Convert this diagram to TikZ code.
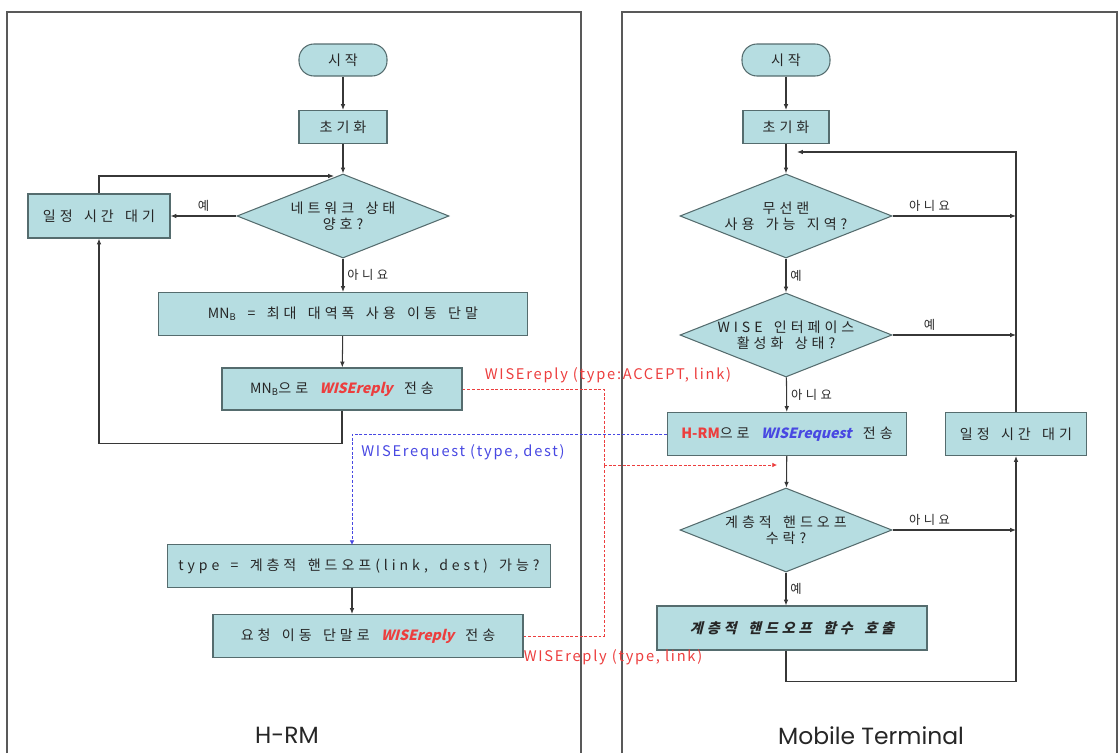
\documentclass[tikz,border=0pt]{standalone}
\usepackage{fontspec}
\setmainfont{Noto Sans CJK KR}[LetterSpace=28,WordSpace=1.6]
\newfontfamily\krslant{Noto Sans CJK KR}[LetterSpace=28,WordSpace=1.6,FakeSlant=0.25]
\newfontfamily\wisefont{Noto Sans CJK KR}[FakeSlant=0.25]
\newfontfamily\plainfont{Noto Sans CJK KR}
\newfontfamily\msgfont{Noto Sans CJK KR}[LetterSpace=12]
\newfontfamily\titlefont{Poppins}
\usetikzlibrary{shapes.geometric,arrows.meta}
\definecolor{boxfill}{RGB}{182,221,225}
\definecolor{boxline}{RGB}{85,108,110}
\definecolor{flowline}{RGB}{55,55,55}
\definecolor{replyred}{RGB}{236,62,62}
\definecolor{reqblue}{RGB}{72,72,226}
\newcommand{\wreply}{{\wisefont\bfseries\color{replyred}WISEreply}}
\newcommand{\wrequest}{{\wisefont\bfseries\color{reqblue}WISErequest}}
\newcommand{\mnb}{{\plainfont MN\textsubscript{B}}}

\begin{document}
\begin{tikzpicture}[x=0.03cm,y=-0.03cm,
  every node/.style={font=\fontsize{12}{14}\selectfont,text=black!85},
  proc/.style n args={2}{rectangle,draw=boxline,fill=boxfill,line width=0.9pt,minimum width=#1*0.03cm,minimum height=#2*0.03cm,inner sep=0pt},
  term/.style={rectangle,rounded corners=0.45cm,draw=boxline,fill=boxfill,line width=0.9pt,minimum width=88*0.03cm,minimum height=32*0.03cm,inner sep=0pt},
  cond/.style={diamond,aspect=2.5,draw=boxline,fill=boxfill,line width=0.9pt,minimum width=212*0.03cm,minimum height=84*0.03cm,inner sep=0pt,align=center},
  arr/.style={draw=flowline,line width=0.9pt,-{Latex[length=5pt,width=4pt]}},
  rep/.style={draw=replyred,line width=0.7pt,dash pattern=on 2.5pt off 1.5pt},
  req/.style={draw=reqblue,line width=0.7pt,dash pattern=on 2.5pt off 1.5pt},
  lab/.style={font=\fontsize{10.5}{12}\selectfont},
  msg/.style={font=\msgfont\fontsize{12.5}{14}\selectfont,inner sep=1pt},
  title/.style={font=\titlefont\fontsize{20}{24}\selectfont,text=black!85},
  frame/.style={draw=black!65,line width=2pt}]
\useasboundingbox (0,0) rectangle (1120,753);
\draw[frame] (7,753) -- (7,12) -- (581,12) -- (581,753);
\draw[frame] (622,753) -- (622,12) -- (1117,12) -- (1117,753);

% H-RM
\node[term] (hstart) at (343,60) {시작};
\node[proc={88}{33}] (hinit) at (343,127) {초기화};
\node[cond] (hnet) at (343,216) {네트워크 상태\\양호?};
\node[proc={142}{44}] (hwait) at (99,216) {일정 시간 대기};
\node[proc={369}{43}] (hbest) at (343,314) {\mnb\ = 최대 대역폭 사용 이동 단말};
\node[proc={240}{42}] (hsend) at (342,389) {\mnb 으로 \wreply\ 전송};
\node[proc={383}{43}] (htype) at (359,566) {type = 계층적 핸드오프(link, dest) 가능?};
\node[proc={310}{43}] (hreply) at (368,636) {요청 이동 단말로 \wreply\ 전송};
\node[title] (hrm) at (287,735) {H-RM};
\coordinate (hjoin) at (334,176);
\coordinate (hdown) at (352,545);

\draw[arr] (hstart) -- (hinit);
\draw[arr] (hinit) -- (hnet);
\draw[arr] (hnet) -- node[lab,above]{예} (hwait);
\draw[arr] (hwait) |- (hjoin);
\draw[arr] (hnet) -- node[lab,right]{아니요} (hbest);
\draw[arr] (hbest) -- (hsend);
\draw[arr] (hsend.south) -- ++(0,33) -| (hwait.south);
\draw[arr] (htype.south -| hdown) -- (hreply.north -| hdown);

% Mobile Terminal
\node[term] (mstart) at (786,60) {시작};
\node[proc={86}{33}] (minit) at (786,127) {초기화};
\node[cond] (mwlan) at (786,216) {무선랜\\사용 가능 지역?};
\node[cond] (mwise) at (786,335) {WISE 인터페이스\\활성화 상태?};
\node[proc={239}{43}] (msend) at (787,434) {{\plainfont\bfseries\color{replyred}H-RM}으로 \wrequest\ 전송};
\node[proc={141}{43}] (mwait) at (1016,434) {일정 시간 대기};
\node[cond] (mhand) at (786,530) {계층적 핸드오프\\수락?};
\node[proc={270}{44}] (mcall) at (792,628) {\krslant\bfseries 계층적 핸드오프 함수 호출};
\node[title] (mt) at (871,736) {Mobile Terminal};
\coordinate (mjoin) at (797,152);

\draw[arr] (mstart) -- (minit);
\draw[arr] (minit) -- (mwlan);
\draw[arr] (mwlan) -- node[lab,above,pos=0.3]{아니요} (mwlan.east -| mwait);
\draw[arr] (mwlan) -- node[lab,right]{예} (mwise);
\draw[arr] (mwise) -- node[lab,above,pos=0.3]{예} (mwise.east -| mwait);
\draw[arr] (mwise) -- node[lab,right]{아니요} (msend);
\draw[arr] (msend) -- (mhand);
\draw[arr] (mhand) -- node[lab,above,pos=0.3]{아니요} (mhand.east -| mwait);
\draw[arr] (mhand) -- node[lab,right]{예} (mcall.north -| mhand);
\draw[arr] (mcall.south -| mhand) -- ++(0,31) -| (mwait.south);
\draw[arr] (mwait.north) |- (mjoin);

% messages
\coordinate (rsplit) at (604,465);
\coordinate (rtip) at (777,465);
\draw[rep] (hsend.east) -| (rsplit);
\draw[rep] (hreply.east) -| (rsplit);
\draw[rep,-{Latex[length=4pt,width=4pt]}] (rsplit) -- (rtip);
\draw[req,-{Latex[length=4pt,width=4pt]}] (msend.west) -| (hdown);
\node[msg,text=replyred] (lacc) at (608,375) {WISEreply (type:ACCEPT, link)};
\node[msg,text=reqblue] (ldest) at (463,452) {WISErequest (type, dest)};
\node[msg,text=replyred] (llink) at (613,657) {WISEreply (type, link)};
\end{tikzpicture}
\end{document}
